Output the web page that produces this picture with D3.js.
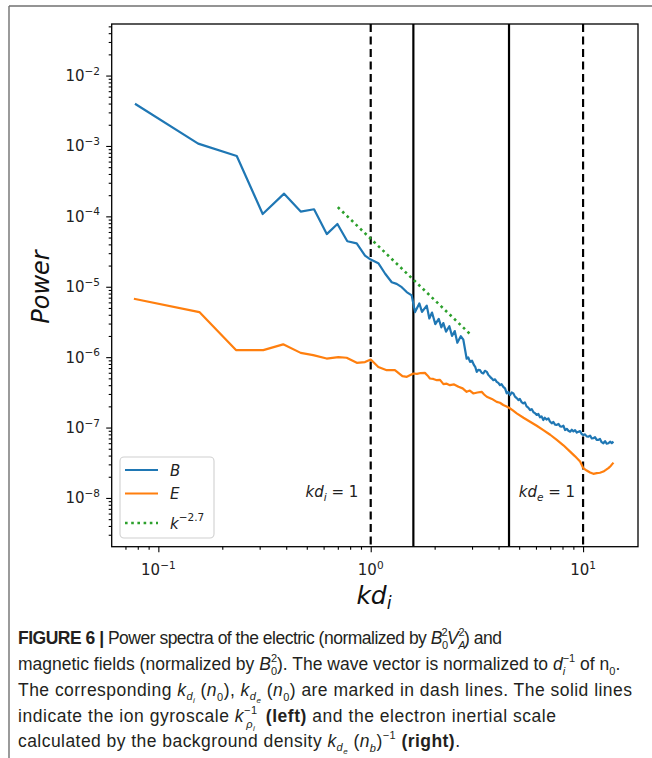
<!DOCTYPE html>
<html><head><meta charset="utf-8">
<script src="https://cdn.jsdelivr.net/npm/d3@7"></script>
<style>body{margin:0;background:#fff}</style>
</head><body><svg id="c" width="652" height="758"></svg>
<script>
// ---- data ----
const kB = [0.0776,0.154,0.234,0.310,0.391,0.468,0.541,0.621,0.697,0.776,0.859,0.940,1.00,1.086,1.17,1.256,1.325,1.40,1.477,1.56,1.60,1.617,1.694,1.744,1.836,1.888,1.944,2.015,2.091,2.151,2.198,2.263,2.346,2.415,2.487,2.558,2.655,2.73,2.83,2.88,2.937,3.0,3.066,3.11,3.158,3.21,3.27,3.33,3.39,3.45,3.52,3.58,3.65,3.71,3.78,3.85,3.92,3.99,4.06,4.13,4.21,4.29,4.37,4.45,4.53,4.61,4.70,4.78,4.87,4.96,5.04,5.13,5.23,5.32,5.42,5.52,5.63,5.73,5.84,5.94,6.05,6.16,6.27,6.38,6.50,6.6,6.73,6.87,6.98,7.12,7.25,7.38,7.52,7.66,7.80,7.94,8.08,8.23,8.38,8.53,8.69,8.85,9.01,9.17,9.34,9.51,9.68,9.85,10.03,10.21,10.4,10.6,10.79,10.99,11.18,11.38,11.59,11.8,12.01,12.23,12.46,12.69,12.92,13.16,13.4,13.65,13.9];
const pB = [3.97e-3,1.08e-3,7.2e-4,1.08e-4,2.1e-4,1.17e-4,1.26e-4,5.6e-5,7.8e-5,4.43e-5,4.14e-5,2.77e-5,2.43e-5,2.16e-5,1.53e-5,1.16e-5,1.10e-5,9.87e-6,8.4e-6,7.53e-6,5.1e-6,4.37e-6,5.8e-6,4.4e-6,5.4e-6,3.55e-6,4.3e-6,2.95e-6,3.5e-6,2.65e-6,3.05e-6,2.3e-6,2.75e-6,2.0e-6,2.35e-6,1.6e-6,1.98e-6,1.77e-6,9.5e-7,9.9e-7,8.55e-7,8.9e-7,7.69e-7,7.2e-7,6.18e-7,6.6e-7,6.53e-7,6.0e-7,5.86e-7,6.4e-7,6.18e-7,5.6e-7,5.25e-7,5.0e-7,4.71e-7,4.85e-7,4.46e-7,4.3e-7,4.0e-7,4.15e-7,3.79e-7,3.6e-7,3.05e-7,3.2e-7,2.89e-7,3.15e-7,3.05e-7,2.75e-7,2.62e-7,2.46e-7,2.55e-7,2.3e-7,2.2e-7,2.28e-7,2.0e-7,1.92e-7,1.77e-7,1.83e-7,1.65e-7,1.6e-7,1.51e-7,1.56e-7,1.40e-7,1.44e-7,1.28e-7,1.38e-7,1.30e-7,1.35e-7,1.22e-7,1.15e-7,1.2e-7,1.1e-7,1.09e-7,1.13e-7,1.04e-7,1.03e-7,1.06e-7,9.2e-8,9.6e-8,9.0e-8,8.73e-8,9.3e-8,8.8e-8,9.2e-8,8.5e-8,8.73e-8,8.9e-8,8.1e-8,7.83e-8,8.0e-8,7.5e-8,7.41e-8,7.7e-8,7.0e-8,7.04e-8,7.3e-8,6.7e-8,6.67e-8,6.9e-8,6.2e-8,5.98e-8,6.4e-8,5.9e-8,5.98e-8,6.3e-8,6.0e-8,6.3e-8];
const kE = [0.0767,0.156,0.232,0.312,0.387,0.468,0.536,0.62,0.704,0.77,0.86,0.94,1.0,1.086,1.19,1.30,1.41,1.48,1.59,1.65,1.72,1.80,1.85,1.90,1.97,2.05,2.12,2.20,2.28,2.36,2.47,2.59,2.71,2.83,2.93,3.04,3.18,3.33,3.42,3.52,3.72,3.92,4.06,4.21,4.34,4.48,4.67,4.87,5.24,5.63,6.05,6.50,7.0,7.52,8.08,8.69,9.17,9.68,10.03,10.4,10.79,11.18,11.6,12.01,12.46,12.8,13.16,13.5,13.9];
const pE = [6.76e-6,4.37e-6,1.26e-6,1.26e-6,1.52e-6,1.15e-6,1.07e-6,9.55e-7,1.0e-6,9.8e-7,8.3e-7,8.5e-7,9.25e-7,7.24e-7,6.53e-7,6.53e-7,5.37e-7,5.25e-7,5.86e-7,5.8e-7,5.95e-7,5.98e-7,5.5e-7,4.98e-7,4.9e-7,4.71e-7,4.75e-7,4.14e-7,4.2e-7,4.0e-7,4.1e-7,3.79e-7,3.6e-7,3.22e-7,3.35e-7,3.05e-7,3.15e-7,3.22e-7,2.95e-7,2.74e-7,2.55e-7,2.32e-7,2.25e-7,2.09e-7,2.0e-7,1.91e-7,1.75e-7,1.59e-7,1.38e-7,1.21e-7,1.06e-7,9.2e-8,7.9e-8,6.67e-8,5.6e-8,4.55e-8,3.9e-8,3.29e-8,2.65e-8,2.45e-8,2.3e-8,2.2e-8,2.25e-8,2.28e-8,2.37e-8,2.5e-8,2.65e-8,2.85e-8,3.18e-8];
const kFit = [0.70, 3.0];
const pFit = [1.35e-4, 2.0e-6];
const xMajor = [0.1, 1, 10];
const xMajorLabels = ["\u22121", "0", "1"];
const yMajor = [1e-2, 1e-3, 1e-4, 1e-5, 1e-6, 1e-7, 1e-8];
const yMajorLabels = ["\u22122", "\u22123", "\u22124", "\u22125", "\u22126", "\u22127", "\u22128"];
const kDashed = [1, 10];
const kSolid = [1.588, 4.48];
const seriesNames = ["B", "E"];

// ---- layout ----
const svg = d3.select("#c");
svg.append("rect").attr("width", 652).attr("height", 758).attr("fill", "#fff");
const L = 111.7, R = 638, T = 24, Bt = 546.7;
const x = d3.scaleLog().domain([0.0603, 18.14]).range([L, R]);
const y = d3.scaleLog().domain([2.03e-9, 5.4e-2]).range([Bt, T]);
const F = "DejaVu Sans, sans-serif";

// figure frame
svg.append("line").attr("x1", 9).attr("x2", 652).attr("y1", 6).attr("y2", 6).attr("stroke", "#707070").attr("stroke-width", 1.4);
svg.append("line").attr("x1", 9).attr("x2", 9).attr("y1", 6).attr("y2", 758).attr("stroke", "#707070").attr("stroke-width", 1.4);

const g = svg.append("g");
svg.append("defs").append("clipPath").attr("id", "pc").append("rect").attr("x", L).attr("y", T).attr("width", R - L).attr("height", Bt - T);
const pg = g.append("g").attr("clip-path", "url(#pc)");

// vertical reference lines
kDashed.forEach(k => pg.append("line").attr("x1", x(k)).attr("x2", x(k)).attr("y1", T).attr("y2", Bt)
  .attr("stroke", "#000").attr("stroke-width", 2.2).attr("stroke-dasharray", "8,4.5"));
kSolid.forEach(k => pg.append("line").attr("x1", x(k)).attr("x2", x(k)).attr("y1", T).attr("y2", Bt)
  .attr("stroke", "#000").attr("stroke-width", 2.2));

const line = d3.line().x(d => x(d[0])).y(d => y(d[1]));
pg.append("path").datum(kB.map((k, i) => [k, pB[i]])).attr("d", line).attr("fill", "none").attr("stroke", "#1f77b4").attr("stroke-width", 2.2).attr("stroke-linejoin", "round");
pg.append("path").datum(kE.map((k, i) => [k, pE[i]])).attr("d", line).attr("fill", "none").attr("stroke", "#ff7f0e").attr("stroke-width", 2.2).attr("stroke-linejoin", "round");
pg.append("path").datum(kFit.map((k, i) => [k, pFit[i]])).attr("d", line).attr("fill", "none").attr("stroke", "#2ca02c").attr("stroke-width", 2.6).attr("stroke-dasharray", "2.6,3.6");

// axes
const xMinor = [], yMinor = [];
for (let e = -2; e <= 1; e++) for (let m = 2; m <= 9; m++) { const v = m * Math.pow(10, e); if (v > 0.0603 && v < 18.14) xMinor.push(v); }
for (let e = -9; e <= -2; e++) for (let m = 2; m <= 9; m++) { const v = m * Math.pow(10, e); if (v > 2.03e-9 && v < 5.4e-2) yMinor.push(v); }
const xa = g.append("g").attr("transform", `translate(0,${Bt})`);
xa.call(d3.axisBottom(x).tickValues(xMajor).tickFormat("").tickSize(5.5).tickSizeOuter(0));
xa.append("g").call(d3.axisBottom(x).tickValues(xMinor).tickFormat("").tickSize(3).tickSizeOuter(0));
const ya = g.append("g").attr("transform", `translate(${L},0)`);
ya.call(d3.axisLeft(y).tickValues(yMajor).tickFormat("").tickSize(5.5).tickSizeOuter(0));
ya.append("g").call(d3.axisLeft(y).tickValues(yMinor).tickFormat("").tickSize(3).tickSizeOuter(0));
g.selectAll(".domain").remove();
g.selectAll(".tick line").attr("stroke", "#000").attr("stroke-width", 1.1);

// spines
g.append("rect").attr("x", L).attr("y", T).attr("width", R - L).attr("height", Bt - T).attr("fill", "none").attr("stroke", "#000").attr("stroke-width", 1.3);

// tick labels
xMajor.forEach((v, i) => {
  const t = g.append("text").attr("x", x(v)).attr("y", 575).attr("text-anchor", "middle").attr("font-family", F).attr("font-size", 15).attr("fill", "#222");
  t.append("tspan").text("10");
  t.append("tspan").attr("dy", -6.5).attr("font-size", 10.5).text(xMajorLabels[i]);
});
yMajor.forEach((v, i) => {
  const t = g.append("text").attr("x", 100).attr("y", y(v) + 5.5).attr("text-anchor", "end").attr("font-family", F).attr("font-size", 15).attr("fill", "#222");
  t.append("tspan").text("10");
  t.append("tspan").attr("dy", -6.5).attr("font-size", 10.5).text(yMajorLabels[i]);
});

// axis labels
g.append("text").attr("transform", "translate(49,287) rotate(-90)").attr("text-anchor", "middle").attr("font-family", F)
  .attr("font-size", 24).attr("font-style", "italic").attr("fill", "#111").text("Power");
const xl = g.append("text").attr("x", 374).attr("y", 604).attr("text-anchor", "middle").attr("font-family", F).attr("font-size", 25).attr("font-style", "italic").attr("fill", "#111");
xl.append("tspan").text("kd");
xl.append("tspan").attr("dy", 5).attr("font-size", 17.5).text("i");

// annotations
function kdLabel(cx, sub) {
  const t = g.append("text").attr("x", cx).attr("y", 497).attr("text-anchor", "middle").attr("font-family", F).attr("font-size", 15).attr("fill", "#222");
  t.append("tspan").attr("font-style", "italic").text("kd");
  t.append("tspan").attr("font-style", "italic").attr("font-size", 10.5).attr("dy", 3.5).text(sub);
  t.append("tspan").attr("dy", -3.5).text(" = 1");
}
kdLabel(332, "i");
kdLabel(547, "e");

// legend
const lg = g.append("g");
lg.append("rect").attr("x", 120).attr("y", 457).attr("width", 94).attr("height", 81).attr("rx", 4)
  .attr("fill", "#fff").attr("fill-opacity", 0.8).attr("stroke", "#d0d0d0").attr("stroke-width", 1.1);
const legRows = [
  { y: 470, color: "#1f77b4", dash: null, label: seriesNames[0] },
  { y: 493.5, color: "#ff7f0e", dash: null, label: seriesNames[1] },
  { y: 523, color: "#2ca02c", dash: "2.6,3.6", label: null }
];
legRows.forEach(r => {
  const l = lg.append("line").attr("x1", 125).attr("x2", 158).attr("y1", r.y).attr("y2", r.y).attr("stroke", r.color).attr("stroke-width", r.dash ? 2.6 : 2.2);
  if (r.dash) l.attr("stroke-dasharray", r.dash);
  const t = lg.append("text").attr("x", 170).attr("y", r.y + 5.5).attr("font-family", F).attr("font-size", 15).attr("fill", "#222");
  if (r.label) t.attr("font-style", "italic").text(r.label);
  else {
    t.append("tspan").attr("font-style", "italic").text("k");
    t.append("tspan").attr("dy", -7.5).attr("font-size", 10.5).text("\u22122.7");
  }
});

// caption
const CF = "'Liberation Sans Narrow', 'Arial Narrow', 'Liberation Sans', sans-serif";
const CS = 17.5, SS = 11;
function capLine(yb, runs, width) {
  const t = svg.append("text").attr("x", 18).attr("y", yb).attr("font-family", CF).attr("font-size", CS).attr("fill", "#231f20").attr("xml:space", "preserve");
  let off = 0;
  runs.forEach(r => {
    const ts = t.append("tspan").text(r.t);
    const o = r.o || 0;
    if (o !== off) { ts.attr("dy", o - off); off = o; }
    if (r.dx) ts.attr("dx", r.dx);
    if (r.b) ts.attr("font-weight", "bold");
    if (r.i) ts.attr("font-style", "italic");
    if (r.s) ts.attr("font-size", r.s);
  });
  if (width) t.attr("textLength", width).attr("lengthAdjust", "spacing");
}
const SUB = 5, SUP = -8;
capLine(644, [
  { t: "FIGURE 6 |", b: 1 }, { t: " Power spectra of the electric (normalized by " },
  { t: "B", i: 1 }, { t: "0", s: SS, o: SUB }, { t: "2", s: SS, o: SUP, dx: -6.1 },
  { t: "V", i: 1 }, { t: "A", i: 1, s: SS, o: SUB }, { t: "2", s: SS, o: SUP, dx: -6.6 },
  { t: ") and" }
], 484);
capLine(670, [
  { t: "magnetic fields (normalized by " }, { t: "B", i: 1 }, { t: "0", s: SS, o: SUB }, { t: "2", s: SS, o: SUP, dx: -6.1 },
  { t: "). The wave vector is normalized to " }, { t: "d", i: 1 }, { t: "i", i: 1, s: SS, o: SUB }, { t: "\u22121", s: SS, o: SUP, dx: -2.5 },
  { t: " of n" }, { t: "0", s: SS, o: SUB }, { t: "." }
]);
capLine(696, [
  { t: "The corresponding " }, { t: "k", i: 1 }, { t: "d", i: 1, s: SS, o: 4 }, { t: "i", i: 1, s: 8, o: 6.5 },
  { t: " (" }, { t: "n", i: 1 }, { t: "0", s: SS, o: SUB }, { t: "), " },
  { t: "k", i: 1 }, { t: "d", i: 1, s: SS, o: 4 }, { t: "e", i: 1, s: 8, o: 6.5 },
  { t: " (" }, { t: "n", i: 1 }, { t: "0", s: SS, o: SUB }, { t: ") are marked in dash lines. The solid lines" }
], 614);
capLine(722, [
  { t: "indicate the ion gyroscale " }, { t: "k", i: 1 }, { t: "\u22121", s: SS, o: SUP }, { t: "\u03c1", i: 1, s: SS, o: 6, dx: -11.5 },
  { t: "i", i: 1, s: 8, o: 8.5 }, { t: " ", dx: 5 }, { t: "(left)", b: 1 }, { t: " and the electron inertial scale" }
], 538);
capLine(747, [
  { t: "calculated by the background density " }, { t: "k", i: 1 }, { t: "d", i: 1, s: SS, o: 4 }, { t: "e", i: 1, s: 8, o: 6.5 },
  { t: " (" }, { t: "n", i: 1 }, { t: "b", i: 1, s: SS, o: SUB }, { t: ")" }, { t: "\u22121", s: SS, o: SUP }, { t: " " },
  { t: "(right)", b: 1 }, { t: "." }
], 442);
</script>
</body></html>
